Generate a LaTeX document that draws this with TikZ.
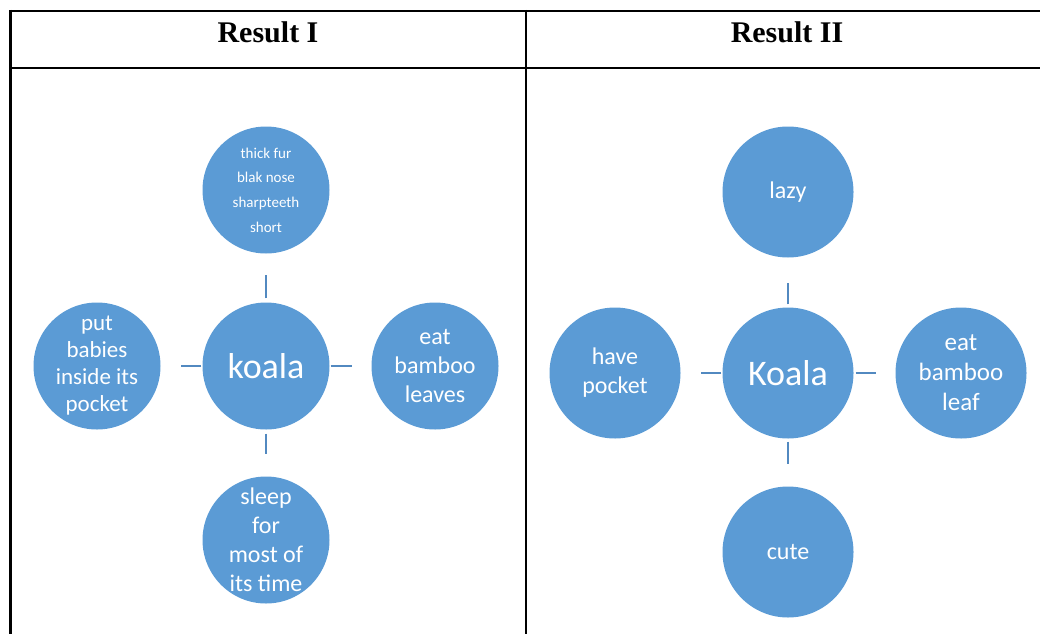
\documentclass[tikz,border=0pt]{standalone}
\usepackage{fontspec}
\setmainfont{Carlito}
\newfontfamily\headfont{Liberation Serif}
\tikzset{>=latex}
\definecolor{koalablue}{HTML}{5B9BD5}
\definecolor{tickblue}{HTML}{5289C0}

\begin{document}
\begin{tikzpicture}[x=1pt, y=-1pt,
    bubble/.style={circle, fill=koalablue, minimum size=127pt, inner sep=0pt},
    words/.style={text=white, align=center, font=\fontsize{24}{29}\selectfont},
    big/.style={text=white, font=\fontsize{36}{40}\selectfont},
    tick/.style={draw=tickblue, line width=2.5pt},
    head/.style={font=\headfont\bfseries\fontsize{30}{34}\selectfont, anchor=base}]
    \useasboundingbox(0, 0)rectangle(1040, 634);
    % table
    \draw[line width=2.6pt](10, 11)--(1040, 11);
    \draw[line width=2.6pt](10, 68)--(1040, 68);
    \draw[line width=2.6pt](10.5, 10)--(10.5, 634);
    \draw[line width=2.6pt](526, 10)--(526, 634);
    \node[head](h1)at(268, 42){Result I};
    \node[head](h2)at(787, 42){Result II};
    % result I
    \node[bubble](k1)at(266, 366){};
    \node[bubble](fur)at(266, 190){};
    \node[bubble](baby)at(97, 366){};
    \node[bubble](leaves)at(435, 366){};
    \node[bubble](sleep)at(266, 540){};
    \node[big](k1t)at(k1){koala};
    \node[words, font=\fontsize{15}{24.7}\selectfont](furt)at(fur){thick fur\\blak nose\\sharpteeth\\short};
    \node[words, font=\fontsize{23}{27}\selectfont](babyt)at(baby){put\\babies\\inside its\\pocket};
    \node[words](leavest)at(leaves){eat\\bamboo\\leaves};
    \node[words](sleept)at(sleep){sleep\\for\\most of\\its time};
    \draw[tick, shorten <=4pt, shorten >=21pt](k1)--(fur);
    \draw[tick, shorten <=1pt, shorten >=20pt](k1)--(baby);
    \draw[tick, shorten <=1pt, shorten >=19pt](k1)--(leaves);
    \draw[tick, shorten <=4pt, shorten >=22pt](k1)--(sleep);
    % result II
    \node[bubble, minimum size=131pt](k2)at(788, 373){};
    \node[bubble, minimum size=131pt](lazy)at(788, 192){};
    \node[bubble, minimum size=131pt](pocket)at(615, 373){};
    \node[bubble, minimum size=131pt](leaf)at(961, 373){};
    \node[bubble, minimum size=131pt](cute)at(788, 552){};
    \node[big](k2t)at(k2){Koala};
    \node[words](lazyt)at(lazy){lazy};
    \node[words](pockett)at(pocket){have\\pocket};
    \node[words, font=\fontsize{25}{30}\selectfont](leaft)at(leaf){eat\\bamboo\\leaf};
    \node[words](cutet)at(cute){cute};
    \draw[tick, shorten <=3pt, shorten >=25pt](k2)--(lazy);
    \draw[tick, shorten <=1pt, shorten >=20pt](k2)--(pocket);
    \draw[tick, shorten <=2pt, shorten >=19pt](k2)--(leaf);
    \draw[tick, shorten <=3pt, shorten >=22pt](k2)--(cute);
\end{tikzpicture}
\end{document}
